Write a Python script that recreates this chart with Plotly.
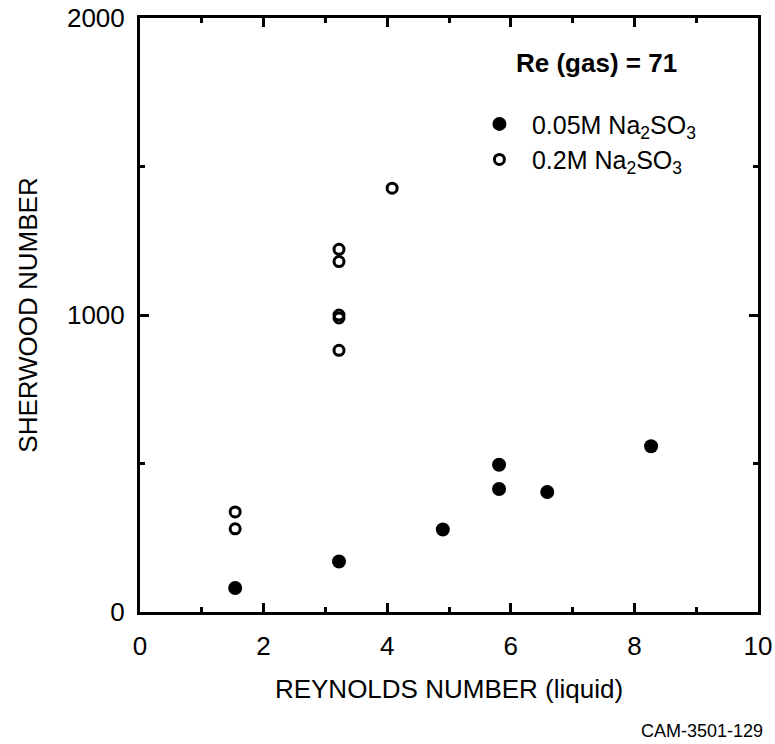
import plotly.graph_objects as go

# Data
re_liquid_005 = [1.54, 3.22, 4.90, 5.81, 5.81, 6.59, 8.27]
sh_005 = [81, 170, 278, 496, 414, 404, 558]

re_liquid_02 = [1.54, 1.54, 3.22, 3.22, 3.22, 3.22, 3.22, 4.08]
sh_02 = [337, 280, 1221, 1180, 1000, 990, 881, 1427]

x_ticks = [0, 2, 4, 6, 8, 10]
y_ticks = [0, 1000, 2000]

FONT = "Liberation Sans, Arial, Helvetica, sans-serif"

fig = go.Figure()
fig.add_trace(go.Scatter(
    x=re_liquid_005, y=sh_005, mode="markers",
    name="0.05M Na<sub>2</sub>SO<sub>3</sub>",
    marker=dict(symbol="circle", size=14, color="black"),
))
fig.add_trace(go.Scatter(
    x=re_liquid_02, y=sh_02, mode="markers",
    name="0.2M Na<sub>2</sub>SO<sub>3</sub>",
    marker=dict(symbol="circle-open", size=10, color="black", line=dict(width=3, color="black")),
))

axis_common = dict(
    showline=True, linecolor="black", linewidth=3, mirror="ticks",
    ticks="inside", ticklen=9, tickwidth=2.5, tickcolor="black",
    showgrid=False, zeroline=False, automargin=False,
    tickfont=dict(family=FONT, size=26, color="black"),
)

fig.update_xaxes(
    range=[0, 10], tickvals=x_ticks, ticktext=[str(v) for v in x_ticks],
    minor=dict(dtick=1, ticks="inside", ticklen=5, tickwidth=2.5, tickcolor="black"),
    title=dict(text="REYNOLDS NUMBER (liquid)", font=dict(family=FONT, size=26, color="black"), standoff=20),
    ticklabelstandoff=9,
    **axis_common,
)
fig.update_yaxes(
    range=[0, 2000], tickvals=y_ticks, ticktext=[str(v) for v in y_ticks],
    minor=dict(dtick=500, ticks="inside", ticklen=5, tickwidth=2.5, tickcolor="black"),
    title=dict(text="SHERWOOD NUMBER", font=dict(family=FONT, size=26, color="black"), standoff=22),
    ticklabelstandoff=7,
    **axis_common,
)

fig.add_annotation(
    text="<b>Re (gas) = 71</b>", xref="paper", yref="paper",
    x=0.738, y=0.924, xanchor="center", yanchor="middle", showarrow=False,
    font=dict(family=FONT, size=26, color="black"),
)
fig.add_annotation(
    text="CAM-3501-129", xref="paper", yref="paper",
    x=1.011, y=-0.2, xanchor="right", yanchor="middle", showarrow=False,
    font=dict(family=FONT, size=18, color="black"),
)

fig.update_layout(
    width=775, height=744,
    margin=dict(l=140, r=17, t=18, b=132),
    paper_bgcolor="white", plot_bgcolor="white",
    font=dict(family=FONT, color="black"),
    legend=dict(
        x=0.529, y=0.86, xanchor="left", yanchor="top",
        bgcolor="rgba(0,0,0,0)", borderwidth=0,
        font=dict(family=FONT, size=25, color="black"),
        itemwidth=55,
    ),
)

fig.write_html("out.html")
